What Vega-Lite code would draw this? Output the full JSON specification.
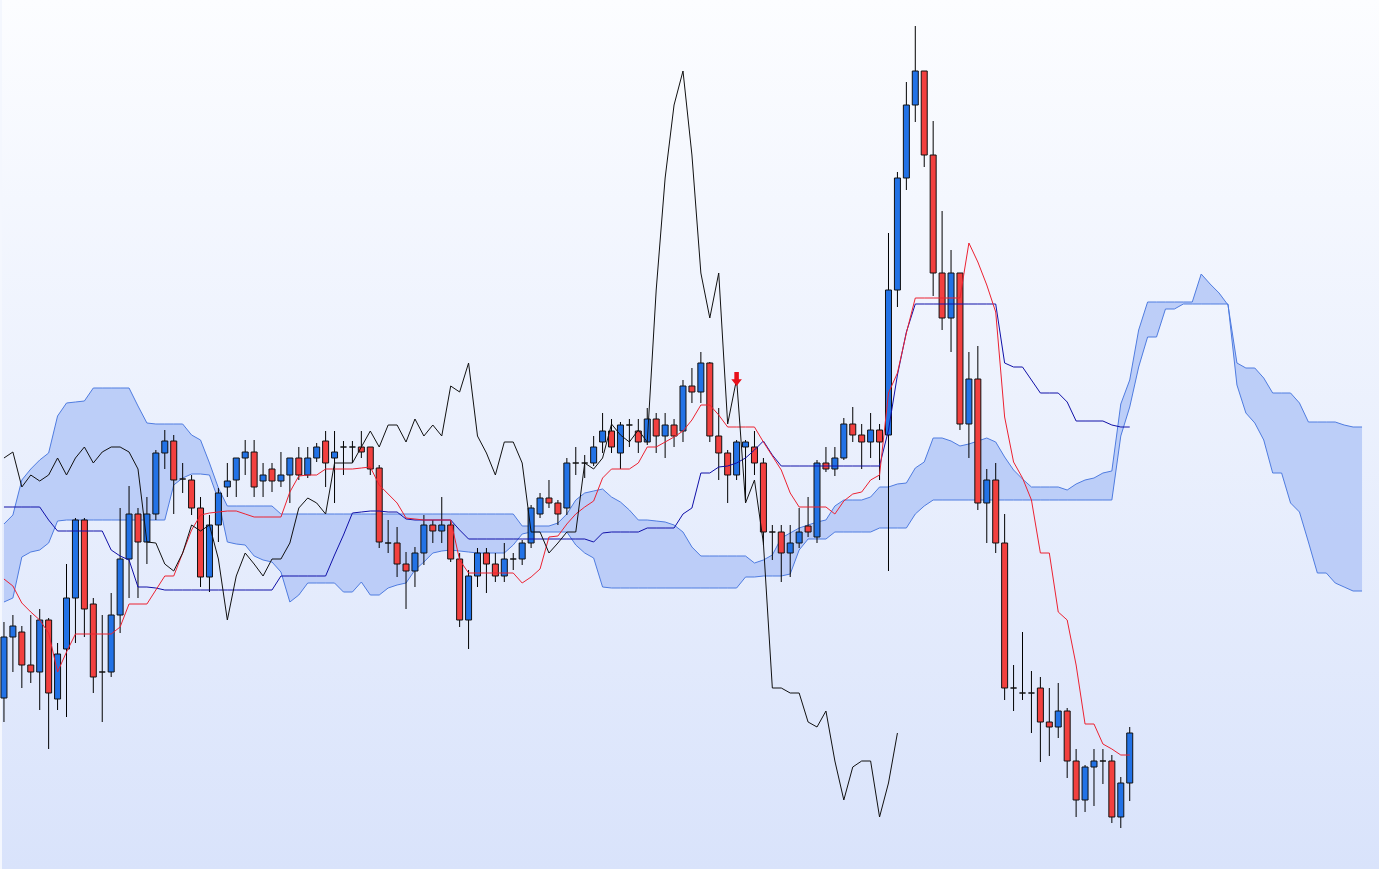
{
  "$schema": "https://vega.github.io/schema/vega-lite/v6.json",
  "width": 1379,
  "height": 869,
  "autosize": {"type": "fit", "contains": "padding"},
  "padding": 0,
  "background": "#f4f7fe",
  "config": {
    "view": {
      "stroke": null,
      "fill": {
        "gradient": "linear", "x1": 0, "y1": 0, "x2": 0, "y2": 1,
        "stops": [{"offset": 0, "color": "#fcfdff"}, {"offset": 1, "color": "#d9e3fb"}]
      }
    }
  },
  "datasets": {
    "signal": [{"i": 82, "y": 379}],
    "ichimoku": [
      {"i":0,"open":698,"high":622,"low":722,"close":637,"tenkan":579,"kijun":507,"chikou":458,"spanA":524,"spanB":602},
      {"i":1,"open":637,"high":615,"low":672,"close":626,"tenkan":586,"kijun":507,"chikou":452,"spanA":515,"spanB":598},
      {"i":2,"open":632,"high":626,"low":688,"close":665,"tenkan":603,"kijun":507,"chikou":487,"spanA":480,"spanB":557},
      {"i":3,"open":665,"high":615,"low":683,"close":672,"tenkan":612,"kijun":507,"chikou":475,"spanA":469,"spanB":552},
      {"i":4,"open":672,"high":609,"low":710,"close":620,"tenkan":620,"kijun":507,"chikou":481,"spanA":460,"spanB":550},
      {"i":5,"open":620,"high":618,"low":749,"close":693,"tenkan":633,"kijun":520,"chikou":475,"spanA":453,"spanB":543},
      {"i":6,"open":699,"high":643,"low":710,"close":654,"tenkan":672,"kijun":531,"chikou":458,"spanA":416,"spanB":521},
      {"i":7,"open":649,"high":564,"low":717,"close":598,"tenkan":652,"kijun":531,"chikou":475,"spanA":403,"spanB":520},
      {"i":8,"open":598,"high":518,"low":643,"close":520,"tenkan":634,"kijun":531,"chikou":458,"spanA":402,"spanB":520},
      {"i":9,"open":520,"high":518,"low":637,"close":609,"tenkan":634,"kijun":531,"chikou":447,"spanA":401,"spanB":520},
      {"i":10,"open":604,"high":598,"low":693,"close":677,"tenkan":634,"kijun":531,"chikou":463,"spanA":388,"spanB":520},
      {"i":11,"open":672,"high":615,"low":722,"close":672,"tenkan":634,"kijun":531,"chikou":452,"spanA":388,"spanB":520},
      {"i":12,"open":672,"high":593,"low":677,"close":615,"tenkan":634,"kijun":550,"chikou":447,"spanA":388,"spanB":520},
      {"i":13,"open":615,"high":508,"low":633,"close":559,"tenkan":627,"kijun":556,"chikou":447,"spanA":388,"spanB":520},
      {"i":14,"open":559,"high":486,"low":598,"close":514,"tenkan":604,"kijun":560,"chikou":452,"spanA":388,"spanB":520},
      {"i":15,"open":514,"high":508,"low":598,"close":542,"tenkan":604,"kijun":587,"chikou":469,"spanA":406,"spanB":520},
      {"i":16,"open":542,"high":497,"low":564,"close":514,"tenkan":604,"kijun":587,"chikou":542,"spanA":423,"spanB":520},
      {"i":17,"open":514,"high":450,"low":520,"close":453,"tenkan":590,"kijun":588,"chikou":543,"spanA":424,"spanB":520},
      {"i":18,"open":453,"high":430,"low":469,"close":441,"tenkan":576,"kijun":590,"chikou":564,"spanA":424,"spanB":520},
      {"i":19,"open":441,"high":435,"low":514,"close":480,"tenkan":576,"kijun":590,"chikou":571,"spanA":424,"spanB":485},
      {"i":20,"open":479,"high":463,"low":493,"close":479,"tenkan":553,"kijun":590,"chikou":553,"spanA":424,"spanB":478},
      {"i":21,"open":480,"high":475,"low":515,"close":508,"tenkan":530,"kijun":590,"chikou":525,"spanA":435,"spanB":474},
      {"i":22,"open":508,"high":497,"low":587,"close":577,"tenkan":515,"kijun":590,"chikou":531,"spanA":440,"spanB":474},
      {"i":23,"open":577,"high":515,"low":592,"close":525,"tenkan":513,"kijun":590,"chikou":525,"spanA":463,"spanB":475},
      {"i":24,"open":525,"high":488,"low":542,"close":493,"tenkan":512,"kijun":590,"chikou":559,"spanA":488,"spanB":500},
      {"i":25,"open":487,"high":463,"low":497,"close":481,"tenkan":511,"kijun":590,"chikou":620,"spanA":506,"spanB":542},
      {"i":26,"open":480,"high":458,"low":497,"close":458,"tenkan":511,"kijun":590,"chikou":576,"spanA":506,"spanB":544},
      {"i":27,"open":458,"high":440,"low":475,"close":452,"tenkan":514,"kijun":590,"chikou":553,"spanA":506,"spanB":545},
      {"i":28,"open":452,"high":440,"low":497,"close":487,"tenkan":517,"kijun":590,"chikou":564,"spanA":506,"spanB":556},
      {"i":29,"open":481,"high":463,"low":497,"close":475,"tenkan":517,"kijun":590,"chikou":576,"spanA":506,"spanB":560},
      {"i":30,"open":469,"high":463,"low":492,"close":481,"tenkan":517,"kijun":590,"chikou":559,"spanA":506,"spanB":562},
      {"i":31,"open":481,"high":452,"low":487,"close":475,"tenkan":517,"kijun":576,"chikou":559,"spanA":514,"spanB":572},
      {"i":32,"open":475,"high":458,"low":503,"close":458,"tenkan":492,"kijun":576,"chikou":543,"spanA":514,"spanB":602},
      {"i":33,"open":458,"high":447,"low":480,"close":475,"tenkan":476,"kijun":576,"chikou":508,"spanA":514,"spanB":595},
      {"i":34,"open":475,"high":447,"low":478,"close":458,"tenkan":475,"kijun":576,"chikou":498,"spanA":514,"spanB":583},
      {"i":35,"open":458,"high":443,"low":462,"close":447,"tenkan":475,"kijun":576,"chikou":503,"spanA":514,"spanB":583},
      {"i":36,"open":441,"high":431,"low":487,"close":463,"tenkan":469,"kijun":576,"chikou":514,"spanA":514,"spanB":583},
      {"i":37,"open":458,"high":431,"low":503,"close":452,"tenkan":469,"kijun":555,"chikou":463,"spanA":514,"spanB":583},
      {"i":38,"open":447,"high":441,"low":475,"close":447,"tenkan":469,"kijun":535,"chikou":463,"spanA":514,"spanB":592},
      {"i":39,"open":447,"high":441,"low":463,"close":447,"tenkan":469,"kijun":513,"chikou":463,"spanA":514,"spanB":592},
      {"i":40,"open":447,"high":431,"low":458,"close":452,"tenkan":468,"kijun":512,"chikou":447,"spanA":514,"spanB":582},
      {"i":41,"open":447,"high":447,"low":475,"close":469,"tenkan":467,"kijun":511,"chikou":431,"spanA":514,"spanB":595},
      {"i":42,"open":468,"high":465,"low":548,"close":542,"tenkan":485,"kijun":511,"chikou":447,"spanA":514,"spanB":595},
      {"i":43,"open":543,"high":520,"low":553,"close":543,"tenkan":494,"kijun":512,"chikou":425,"spanA":514,"spanB":588},
      {"i":44,"open":543,"high":527,"low":577,"close":564,"tenkan":503,"kijun":512,"chikou":425,"spanA":514,"spanB":585},
      {"i":45,"open":564,"high":552,"low":609,"close":571,"tenkan":518,"kijun":519,"chikou":442,"spanA":514,"spanB":583},
      {"i":46,"open":571,"high":547,"low":587,"close":553,"tenkan":519,"kijun":520,"chikou":419,"spanA":514,"spanB":570},
      {"i":47,"open":553,"high":515,"low":565,"close":525,"tenkan":520,"kijun":520,"chikou":436,"spanA":514,"spanB":562},
      {"i":48,"open":525,"high":520,"low":543,"close":531,"tenkan":520,"kijun":520,"chikou":425,"spanA":514,"spanB":553},
      {"i":49,"open":531,"high":497,"low":543,"close":525,"tenkan":520,"kijun":520,"chikou":436,"spanA":514,"spanB":551},
      {"i":50,"open":525,"high":520,"low":562,"close":559,"tenkan":520,"kijun":520,"chikou":386,"spanA":514,"spanB":550},
      {"i":51,"open":559,"high":553,"low":627,"close":620,"tenkan":560,"kijun":530,"chikou":392,"spanA":514,"spanB":551},
      {"i":52,"open":620,"high":570,"low":649,"close":576,"tenkan":573,"kijun":539,"chikou":363,"spanA":514,"spanB":552},
      {"i":53,"open":576,"high":548,"low":587,"close":553,"tenkan":573,"kijun":539,"chikou":436,"spanA":514,"spanB":553},
      {"i":54,"open":553,"high":548,"low":593,"close":564,"tenkan":573,"kijun":539,"chikou":453,"spanA":514,"spanB":553},
      {"i":55,"open":564,"high":553,"low":582,"close":576,"tenkan":573,"kijun":539,"chikou":475,"spanA":514,"spanB":553},
      {"i":56,"open":576,"high":543,"low":582,"close":559,"tenkan":573,"kijun":539,"chikou":442,"spanA":514,"spanB":553},
      {"i":57,"open":559,"high":553,"low":570,"close":559,"tenkan":573,"kijun":539,"chikou":442,"spanA":514,"spanB":545},
      {"i":58,"open":559,"high":540,"low":565,"close":543,"tenkan":583,"kijun":539,"chikou":463,"spanA":526,"spanB":534},
      {"i":59,"open":543,"high":505,"low":548,"close":508,"tenkan":577,"kijun":539,"chikou":532,"spanA":526,"spanB":532},
      {"i":60,"open":514,"high":493,"low":518,"close":498,"tenkan":569,"kijun":539,"chikou":532,"spanA":526,"spanB":532},
      {"i":61,"open":498,"high":480,"low":508,"close":503,"tenkan":537,"kijun":539,"chikou":553,"spanA":526,"spanB":532},
      {"i":62,"open":503,"high":500,"low":525,"close":514,"tenkan":536,"kijun":539,"chikou":543,"spanA":523,"spanB":532},
      {"i":63,"open":508,"high":458,"low":515,"close":463,"tenkan":524,"kijun":539,"chikou":532,"spanA":514,"spanB":532},
      {"i":64,"open":463,"high":447,"low":475,"close":463,"tenkan":514,"kijun":539,"chikou":532,"spanA":500,"spanB":545},
      {"i":65,"open":463,"high":455,"low":478,"close":463,"tenkan":507,"kijun":539,"chikou":463,"spanA":493,"spanB":553},
      {"i":66,"open":463,"high":436,"low":466,"close":447,"tenkan":501,"kijun":542,"chikou":469,"spanA":491,"spanB":558},
      {"i":67,"open":442,"high":413,"low":453,"close":431,"tenkan":478,"kijun":533,"chikou":458,"spanA":489,"spanB":587},
      {"i":68,"open":431,"high":419,"low":453,"close":447,"tenkan":469,"kijun":532,"chikou":424,"spanA":497,"spanB":588},
      {"i":69,"open":453,"high":422,"low":469,"close":425,"tenkan":469,"kijun":532,"chikou":435,"spanA":502,"spanB":588},
      {"i":70,"open":425,"high":419,"low":447,"close":425,"tenkan":469,"kijun":532,"chikou":442,"spanA":510,"spanB":588},
      {"i":71,"open":431,"high":419,"low":453,"close":442,"tenkan":463,"kijun":532,"chikou":430,"spanA":520,"spanB":588},
      {"i":72,"open":442,"high":408,"low":445,"close":419,"tenkan":447,"kijun":528,"chikou":442,"spanA":520,"spanB":588},
      {"i":73,"open":419,"high":413,"low":453,"close":436,"tenkan":447,"kijun":528,"chikou":290,"spanA":521,"spanB":588},
      {"i":74,"open":436,"high":413,"low":458,"close":425,"tenkan":442,"kijun":528,"chikou":178,"spanA":522,"spanB":588},
      {"i":75,"open":425,"high":419,"low":447,"close":436,"tenkan":437,"kijun":528,"chikou":105,"spanA":525,"spanB":588},
      {"i":76,"open":431,"high":380,"low":442,"close":386,"tenkan":431,"kijun":514,"chikou":71,"spanA":532,"spanB":588},
      {"i":77,"open":386,"high":368,"low":403,"close":392,"tenkan":420,"kijun":508,"chikou":155,"spanA":547,"spanB":588},
      {"i":78,"open":392,"high":352,"low":403,"close":363,"tenkan":405,"kijun":473,"chikou":273,"spanA":556,"spanB":588},
      {"i":79,"open":363,"high":362,"low":442,"close":436,"tenkan":405,"kijun":473,"chikou":318,"spanA":556,"spanB":588},
      {"i":80,"open":436,"high":408,"low":480,"close":453,"tenkan":415,"kijun":467,"chikou":273,"spanA":556,"spanB":588},
      {"i":81,"open":453,"high":450,"low":503,"close":475,"tenkan":427,"kijun":466,"chikou":424,"spanA":556,"spanB":588},
      {"i":82,"open":475,"high":440,"low":480,"close":442,"tenkan":427,"kijun":463,"chikou":379,"spanA":556,"spanB":588},
      {"i":83,"open":447,"high":440,"low":500,"close":442,"tenkan":427,"kijun":458,"chikou":503,"spanA":556,"spanB":577},
      {"i":84,"open":447,"high":431,"low":475,"close":463,"tenkan":427,"kijun":450,"chikou":480,"spanA":563,"spanB":577},
      {"i":85,"open":463,"high":458,"low":545,"close":532,"tenkan":442,"kijun":441,"chikou":543,"spanA":560,"spanB":576},
      {"i":86,"open":532,"high":525,"low":560,"close":532,"tenkan":456,"kijun":455,"chikou":688,"spanA":555,"spanB":576},
      {"i":87,"open":532,"high":525,"low":582,"close":553,"tenkan":470,"kijun":466,"chikou":688,"spanA":538,"spanB":576},
      {"i":88,"open":553,"high":525,"low":577,"close":543,"tenkan":493,"kijun":466,"chikou":693,"spanA":533,"spanB":574},
      {"i":89,"open":543,"high":508,"low":548,"close":532,"tenkan":507,"kijun":466,"chikou":693,"spanA":528,"spanB":550},
      {"i":90,"open":526,"high":497,"low":537,"close":532,"tenkan":507,"kijun":466,"chikou":722,"spanA":525,"spanB":539},
      {"i":91,"open":537,"high":460,"low":543,"close":463,"tenkan":507,"kijun":466,"chikou":727,"spanA":522,"spanB":539},
      {"i":92,"open":463,"high":447,"low":472,"close":469,"tenkan":507,"kijun":466,"chikou":711,"spanA":520,"spanB":539},
      {"i":93,"open":469,"high":447,"low":476,"close":458,"tenkan":514,"kijun":466,"chikou":761,"spanA":506,"spanB":532},
      {"i":94,"open":458,"high":418,"low":460,"close":424,"tenkan":501,"kijun":466,"chikou":800,"spanA":500,"spanB":532},
      {"i":95,"open":424,"high":407,"low":442,"close":435,"tenkan":494,"kijun":466,"chikou":767,"spanA":500,"spanB":532},
      {"i":96,"open":435,"high":424,"low":469,"close":442,"tenkan":492,"kijun":466,"chikou":761,"spanA":500,"spanB":532},
      {"i":97,"open":442,"high":413,"low":458,"close":430,"tenkan":480,"kijun":466,"chikou":761,"spanA":497,"spanB":532},
      {"i":98,"open":430,"high":424,"low":480,"close":442,"tenkan":475,"kijun":466,"chikou":817,"spanA":487,"spanB":528},
      {"i":99,"open":435,"high":233,"low":571,"close":290,"tenkan":393,"kijun":430,"chikou":783,"spanA":487,"spanB":528},
      {"i":100,"open":290,"high":172,"low":307,"close":178,"tenkan":373,"kijun":375,"chikou":733,"spanA":484,"spanB":528},
      {"i":101,"open":178,"high":82,"low":190,"close":105,"tenkan":333,"kijun":332,"spanA":483,"spanB":528},
      {"i":102,"open":105,"high":26,"low":122,"close":71,"tenkan":298,"kijun":304,"spanA":468,"spanB":514},
      {"i":103,"open":71,"high":71,"low":167,"close":155,"tenkan":298,"kijun":304,"spanA":462,"spanB":506},
      {"i":104,"open":155,"high":121,"low":296,"close":273,"tenkan":298,"kijun":304,"spanA":438,"spanB":500},
      {"i":105,"open":273,"high":211,"low":330,"close":318,"tenkan":298,"kijun":304,"spanA":438,"spanB":500},
      {"i":106,"open":318,"high":250,"low":352,"close":273,"tenkan":298,"kijun":304,"spanA":441,"spanB":500},
      {"i":107,"open":273,"high":273,"low":430,"close":424,"tenkan":298,"kijun":304,"spanA":446,"spanB":500},
      {"i":108,"open":424,"high":352,"low":458,"close":379,"tenkan":243,"kijun":304,"spanA":444,"spanB":500},
      {"i":109,"open":379,"high":346,"low":510,"close":503,"tenkan":262,"kijun":304,"spanA":441,"spanB":500},
      {"i":110,"open":503,"high":469,"low":543,"close":480,"tenkan":285,"kijun":304,"spanA":438,"spanB":500},
      {"i":111,"open":480,"high":463,"low":553,"close":543,"tenkan":312,"kijun":304,"spanA":442,"spanB":500},
      {"i":112,"open":543,"high":514,"low":700,"close":688,"tenkan":417,"kijun":363,"spanA":457,"spanB":500},
      {"i":113,"open":688,"high":665,"low":711,"close":688,"tenkan":462,"kijun":367,"spanA":470,"spanB":500},
      {"i":114,"open":693,"high":632,"low":700,"close":693,"tenkan":478,"kijun":367,"spanA":479,"spanB":500},
      {"i":115,"open":693,"high":671,"low":733,"close":693,"tenkan":500,"kijun":380,"spanA":487,"spanB":500},
      {"i":116,"open":688,"high":677,"low":762,"close":722,"tenkan":553,"kijun":393,"spanA":487,"spanB":500},
      {"i":117,"open":722,"high":688,"low":756,"close":727,"tenkan":553,"kijun":393,"spanA":487,"spanB":500},
      {"i":118,"open":727,"high":683,"low":738,"close":711,"tenkan":612,"kijun":393,"spanA":487,"spanB":500},
      {"i":119,"open":711,"high":708,"low":778,"close":761,"tenkan":620,"kijun":402,"spanA":490,"spanB":500},
      {"i":120,"open":761,"high":749,"low":817,"close":800,"tenkan":665,"kijun":421,"spanA":484,"spanB":500},
      {"i":121,"open":800,"high":765,"low":812,"close":767,"tenkan":724,"kijun":421,"spanA":480,"spanB":500},
      {"i":122,"open":767,"high":749,"low":806,"close":761,"tenkan":724,"kijun":421,"spanA":478,"spanB":500},
      {"i":123,"open":761,"high":749,"low":784,"close":761,"tenkan":744,"kijun":421,"spanA":473,"spanB":500},
      {"i":124,"open":761,"high":755,"low":823,"close":817,"tenkan":749,"kijun":425,"spanA":471,"spanB":500},
      {"i":125,"open":817,"high":777,"low":828,"close":783,"tenkan":755,"kijun":427,"spanA":404,"spanB":436},
      {"i":126,"open":783,"high":727,"low":801,"close":733,"tenkan":755,"kijun":427,"spanA":380,"spanB":407},
      {"i":127,"spanA":330,"spanB":367},
      {"i":128,"spanA":302,"spanB":337},
      {"i":129,"spanA":302,"spanB":337},
      {"i":130,"spanA":302,"spanB":309},
      {"i":131,"spanA":302,"spanB":309},
      {"i":132,"spanA":302,"spanB":304},
      {"i":133,"spanA":302,"spanB":304},
      {"i":134,"spanA":274,"spanB":304},
      {"i":135,"spanA":284,"spanB":304},
      {"i":136,"spanA":293,"spanB":304},
      {"i":137,"spanA":305,"spanB":304},
      {"i":138,"spanA":363,"spanB":385},
      {"i":139,"spanA":368,"spanB":413},
      {"i":140,"spanA":368,"spanB":423},
      {"i":141,"spanA":378,"spanB":440},
      {"i":142,"spanA":393,"spanB":473},
      {"i":143,"spanA":393,"spanB":473},
      {"i":144,"spanA":393,"spanB":503},
      {"i":145,"spanA":403,"spanB":512},
      {"i":146,"spanA":422,"spanB":542},
      {"i":147,"spanA":422,"spanB":573},
      {"i":148,"spanA":422,"spanB":573},
      {"i":149,"spanA":422,"spanB":583},
      {"i":150,"spanA":425,"spanB":587},
      {"i":151,"spanA":427,"spanB":591},
      {"i":152,"spanA":427,"spanB":591}
    ]
  },
  "data": {"name": "ichimoku"},
  "encoding": {
    "x": {"field": "i", "type": "quantitative", "axis": null, "scale": {"domain": [-0.22, 153.9], "nice": false, "zero": false, "padding": 0}}
  },
  "layer": [
    {
      "mark": {"type": "area", "color": "#b9cbf8", "opacity": 0.95},
      "encoding": {
        "y": {"field": "spanA", "type": "quantitative", "axis": null, "scale": {"domain": [0, 869], "reverse": true, "nice": false, "zero": false, "padding": 0}},
        "y2": {"field": "spanB"}
      }
    },
    {
      "mark": {"type": "line", "color": "#4f7ce0", "strokeWidth": 1},
      "encoding": {"y": {"field": "spanA", "type": "quantitative"}}
    },
    {
      "mark": {"type": "line", "color": "#4f7ce0", "strokeWidth": 1},
      "encoding": {"y": {"field": "spanB", "type": "quantitative"}}
    },
    {
      "transform": [{"filter": "isValid(datum.open)"}],
      "mark": {"type": "rule", "color": "#000000", "strokeWidth": 1},
      "encoding": {
        "y": {"field": "high", "type": "quantitative"},
        "y2": {"field": "low"}
      }
    },
    {
      "transform": [{"filter": "isValid(datum.open)"}],
      "mark": {"type": "bar", "size": 6, "stroke": "#111111", "strokeWidth": 1},
      "encoding": {
        "y": {"field": "open", "type": "quantitative"},
        "y2": {"field": "close"},
        "color": {"condition": {"test": "datum.close < datum.open", "value": "#2272e6"}, "value": "#f2403f"}
      }
    },
    {
      "transform": [{"filter": "isValid(datum.kijun)"}],
      "mark": {"type": "line", "color": "#1010a8", "strokeWidth": 1},
      "encoding": {"y": {"field": "kijun", "type": "quantitative"}}
    },
    {
      "transform": [{"filter": "isValid(datum.tenkan)"}],
      "mark": {"type": "line", "color": "#ec2231", "strokeWidth": 1},
      "encoding": {"y": {"field": "tenkan", "type": "quantitative"}}
    },
    {
      "transform": [{"filter": "isValid(datum.chikou)"}],
      "mark": {"type": "line", "color": "#111111", "strokeWidth": 1},
      "encoding": {"y": {"field": "chikou", "type": "quantitative"}}
    },
    {
      "data": {"name": "signal"},
      "mark": {
        "type": "point", "filled": true, "opacity": 1, "color": "#e8101a", "size": 200,
        "shape": "M-0.32,-1L0.32,-1L0.32,0.05L0.75,0.05L0,1L-0.75,0.05L-0.32,0.05Z"
      },
      "encoding": {
        "x": {"field": "i", "type": "quantitative"},
        "y": {"field": "y", "type": "quantitative"}
      }
    }
  ]
}
